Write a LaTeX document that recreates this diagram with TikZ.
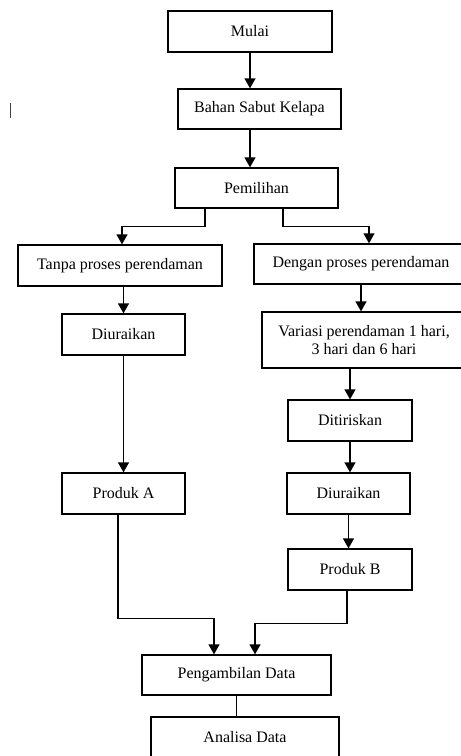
\documentclass[tikz,border=0pt]{standalone}
\usepackage{fontspec}
\setmainfont{Liberation Serif}
\usetikzlibrary{positioning, arrows.meta}

\begin{document}
\begin{tikzpicture}[x=1pt,y=-1pt,line width=1.3pt,->,>={Triangle[width=11pt,length=10pt]},
    box/.style={draw,rectangle,inner sep=0pt,align=center,font=\fontsize{16}{18}\selectfont},]

    \useasboundingbox (0,0) rectangle (461,756);
    \clip (0,0) rectangle (461,756);

    \node[box, minimum width=164pt, minimum height=41pt] (mulai) at (250,31.5) {Mulai};
    \node[box, minimum width=163pt, minimum height=40pt] (bahan) at (259.5,109) {Bahan Sabut Kelapa};
    \node[box, minimum width=163pt, minimum height=40pt] (pilih) at (256.5,188) {Pemilihan};

    % kiri: tanpa rendam
    \node[box, minimum width=204pt, minimum height=41pt] (tanpa) at (120,265.5) {Tanpa proses perendaman};
    \node[box, minimum width=123pt, minimum height=41pt] (uraiA) at (123.5,334.5) {Diuraikan};
    \node[box, minimum width=123pt, minimum height=41pt] (produkA) at (123.5,493.5) {Produk A};

    % kanan: dengan rendam
    \node[box, minimum width=214pt, minimum height=40pt] (dengan) at (361,264) {Dengan proses perendaman};
    \node[box, minimum width=204pt, minimum height=56pt] (variasi) at (364,340) {Variasi perendaman 1 hari,\\3 hari dan 6 hari};
    \node[box, minimum width=124pt, minimum height=41pt] (tiris) at (350,420.5) {Ditiriskan};
    \node[box, minimum width=123pt, minimum height=41pt] (uraiB) at (348.5,493.5) {Diuraikan};
    \node[box, minimum width=124pt, minimum height=41pt] (produkB) at (350,569.5) {Produk B};

    \node[box, minimum width=189pt, minimum height=40pt] (ambil) at (236.5,675) {Pengambilan Data};
    \node[box, minimum width=188pt, minimum height=41pt] (analisa) at (245,737.5) {Analisa Data};

    \draw[->] (mulai.south) -- (mulai.south |- bahan.north);
    \draw[->] (mulai |- bahan.south) -- (mulai |- pilih.north);

    \draw[->] ([xshift=-51.5pt]pilih.south) -- ++(0,18) -| ([xshift=2pt]tanpa.north);
    \draw[->] ([xshift=26.5pt]pilih.south) -- ++(0,18) -| ([xshift=8pt]dengan.north);

    \draw[->] (uraiA.north |- tanpa.south) -- (uraiA.north);
    \draw[->] (uraiA) -- (produkA);

    \draw[->] (dengan.south) -- (dengan.south |- variasi.north);
    \draw[->] (tiris.north |- variasi.south) -- (tiris.north);
    \draw[->] (tiris.south) -- (tiris.south |- uraiB.north);
    \draw[->] (uraiB.south) -- (uraiB.south |- produkB.north);

    \draw[->] ([xshift=-5.5pt]produkA.south) -- ++(0,104) -| ([xshift=-22.5pt]ambil.north);
    \draw[->] ([xshift=-3pt]produkB.south) -- ++(0,33) -| ([xshift=18.5pt]ambil.north);
    \draw[-] (ambil.south) -- (ambil.south |- analisa.north);

    \draw[-, line width=1pt, black!75] (10,103) -- (10,118);

\end{tikzpicture}
\end{document}
